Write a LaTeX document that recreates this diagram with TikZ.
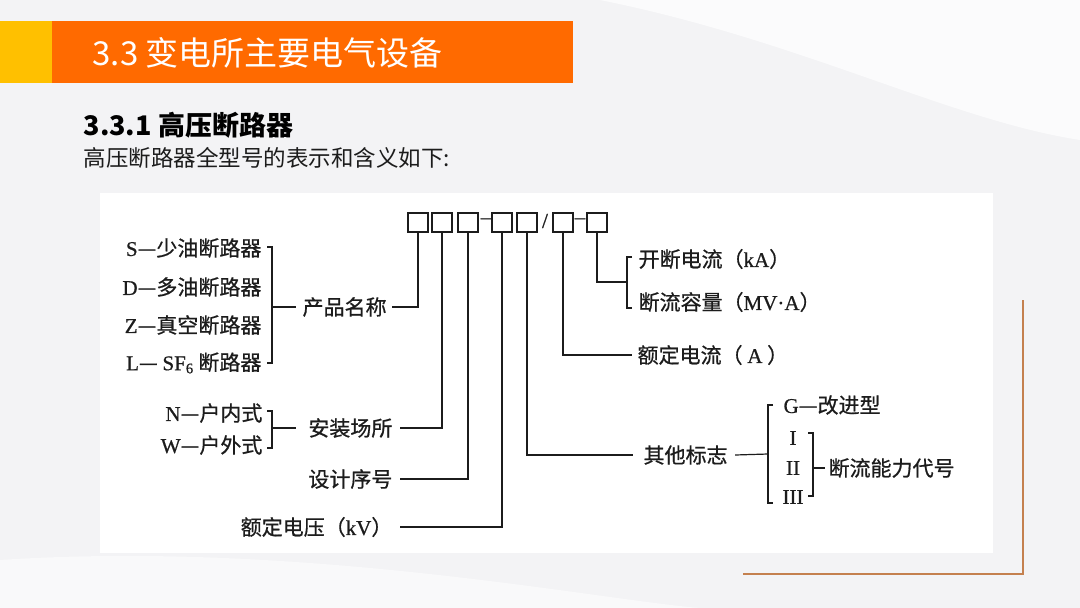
\documentclass[tikz,border=0pt]{standalone}
\usepackage{fontspec}
\setmainfont{Liberation Serif}
\newfontfamily\cjk{Noto Sans CJK SC}
\newfontfamily\cjkd{Noto Sans CJK SC}[FakeBold=0.7]
\newfontfamily\lser{Liberation Serif}[FakeBold=0.7]
\usetikzlibrary{calc}
\definecolor{bgc}{HTML}{F3F3F5}
\definecolor{titleyellow}{HTML}{FFC000}
\definecolor{titleorange}{HTML}{FF6A00}
\definecolor{accent}{HTML}{C4804F}
\definecolor{ink}{HTML}{1C1C1C}
\newcommand\rl[1]{{\lser #1}}
\begin{document}
\begin{tikzpicture}[x=1pt,y=-1pt,
  line width=1.2pt, draw=ink,
  t/.style={inner sep=0pt, text=ink, font=\cjkd\fontsize{21}{21}\selectfont},
  boxn/.style={draw=ink, line width=1.2pt, minimum width=20pt, minimum height=19pt, inner sep=0pt},
  sep/.style={inner sep=0pt, text=ink, font=\lser\fontsize{21}{21}\selectfont}]
\useasboundingbox (0,0) rectangle (1080,608);
\fill[fill=bgc] (0,0) rectangle (1080,608);
\fill[fill=white,opacity=0.7] (600,0) .. controls (800,40) and (950,120) .. (1080,140) -- (1080,0) -- cycle;
\fill[fill=white,opacity=0.5] (0,608) -- (0,560) .. controls (300,540) and (600,600) .. (700,608) -- cycle;
% title bar
\fill[fill=titleyellow] (0,21) rectangle (52,83);
\fill[fill=titleorange] (52,21) rectangle (573,83);
\node[anchor=west, inner sep=0pt, text=white, font=\cjk\fontsize{33}{33}\selectfont] (title) at (92,53) {3.3 变电所主要电气设备};
\node[anchor=west, inner sep=0pt, text=black, font=\cjk\bfseries\fontsize{27}{27}\selectfont] (head) at (83,125) {3.3.1 高压断路器};
\node[anchor=west, inner sep=0pt, text=ink, font=\cjk\fontsize{22.5}{22.5}\selectfont] (sub) at (83,158) {高压断路器全型号的表示和含义如下:};
% panel
\fill[fill=white] (100,193) rectangle (993,553);
\draw[accent, line width=2.6pt] (743,574) -- (1023,574) -- (1023,300);
% boxes
\node[boxn] (b1) at (418,222.5) {};
\node[boxn] (b2) at (442,222.5) {};
\node[boxn] (b3) at (468,222.5) {};
\node[sep] (d1) at (486,221) {–};
\node[boxn] (b4) at (502,222.5) {};
\node[boxn] (b5) at (527,222.5) {};
\node[sep] (sl) at (545,221) {/};
\node[boxn] (b6) at (563,222.5) {};
\node[sep] (d2) at (580,221) {–};
\node[boxn] (b7) at (597,222.5) {};
% left list
\node[t, anchor=east] (s1) at (262,248) {\rl{S}—少油断路器};
\node[t, anchor=east] (s2) at (262,287) {\rl{D}—多油断路器};
\node[t, anchor=east] (s3) at (262,325) {\rl{Z}—真空断路器};
\node[t, anchor=east] (s4) at (262,363) {\rl{L}— \rl{SF\textsubscript{6}} 断路器};
\node[t, anchor=west] (pm) at (302,307) {产品名称};
\coordinate (brA) at (272,307);
\draw (267,247) -- (272,247) -- (272,363) -- (267,363);
\draw (brA) -- ([xshift=-6pt]pm.west);
\draw (b1.south) |- ([xshift=5pt]pm.east);
% install
\node[t, anchor=east] (n1) at (263,413) {\rl{N}—户内式};
\node[t, anchor=east] (n2) at (263,445) {\rl{W}—户外式};
\node[t, anchor=east] (az) at (393,428) {安装场所};
\coordinate (brB) at (272,428);
\draw (267,411) -- (272,411) -- (272,448) -- (267,448);
\draw (brB) -- (296,428);
\draw (b2.south) |- ([xshift=7pt]az.east);
\node[t, anchor=east] (sj) at (393,479) {设计序号};
\draw (b3.south) |- ([xshift=7pt]sj.east);
\node[t, anchor=east] (dy) at (393,527) {额定电压（\rl{kV}）};
\draw (b4.south) |- ([xshift=7pt]dy.east);
% right
\node[t, anchor=west] (kd) at (638,259) {开断电流（\rl{kA}）};
\node[t, anchor=west] (dr) at (638,302) {断流容量（\rl{MV·A}）};
\coordinate (brC) at (627,282);
\draw (632,257) -- (627,257) -- (627,308) -- (632,308);
\draw (b7.south) |- (brC);
\node[t, anchor=west] (ed) at (637,355) {额定电流（ \rl{A} ）};
\draw (b6.south) |- ([xshift=-5pt]ed.west);
% other marks
\node[t, anchor=west] (qt) at (643,455) {其他标志};
\draw (b5.south) |- ([xshift=-10pt]qt.west);
\coordinate (brD) at (768,454);
\draw ([xshift=7pt]qt.east) -- (brD);
\draw (773,405) -- (768,405) -- (768,503) -- (773,503);
\node[t, anchor=west] (g) at (783,405) {\rl{G}—改进型};
\node[t] (r1) at (793,438) {\rl{I}};
\node[t] (r2) at (793,468) {\rl{II}};
\node[t] (r3) at (793,497) {\rl{III}};
\coordinate (brE) at (813,468);
\draw (808,433) -- (813,433) -- (813,496) -- (808,496);
\node[t, anchor=west] (dn) at (828,468) {断流能力代号};
\draw (brE) -- ([xshift=-3pt]dn.west);
\end{tikzpicture}
\end{document}
